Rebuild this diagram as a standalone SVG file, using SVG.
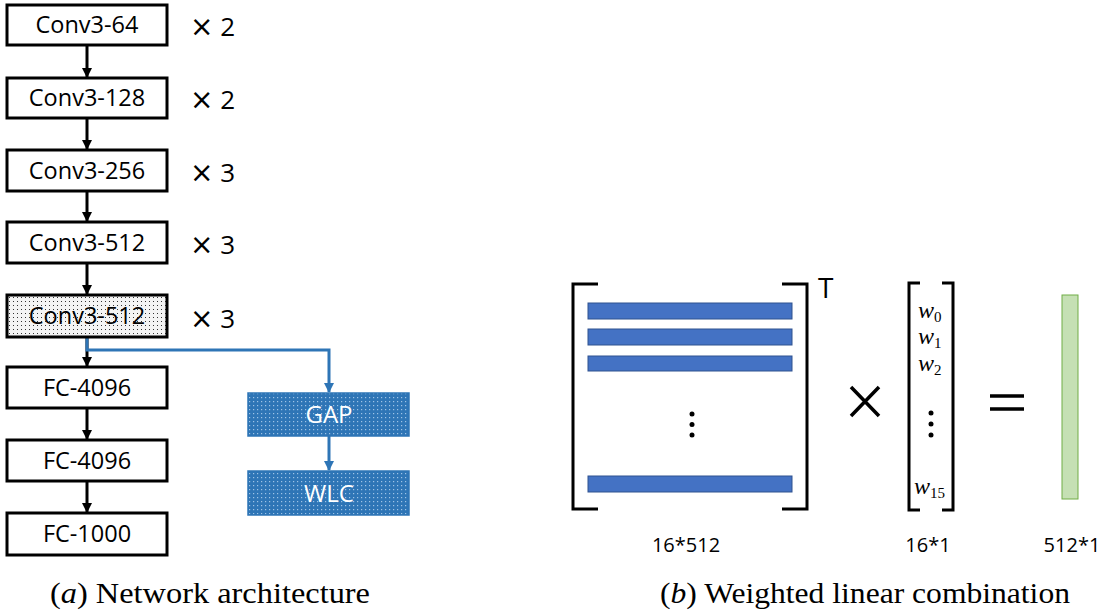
<svg xmlns="http://www.w3.org/2000/svg" width="1099" height="613" viewBox="0 0 1099 613">
<defs>
<pattern id="dotsK" width="4" height="4" patternUnits="userSpaceOnUse"><rect width="4" height="4" fill="#f4f4f4"/><rect x="1" y="1" width="1" height="1" fill="#333"/></pattern>
<pattern id="dotsB" width="4" height="4" patternUnits="userSpaceOnUse"><rect width="4" height="4" fill="#2E75B6"/><rect x="1" y="1" width="1.2" height="1.2" fill="#9ec3e6"/></pattern>
<marker id="ak" markerWidth="10" markerHeight="10" refX="9" refY="5" orient="auto" markerUnits="userSpaceOnUse"><path d="M0,0 L10,5 L0,10 z" fill="#000"/></marker>
<marker id="ab" markerWidth="10" markerHeight="10" refX="9" refY="5" orient="auto" markerUnits="userSpaceOnUse"><path d="M0,0 L10,5 L0,10 z" fill="#2E75B6"/></marker>
</defs>
<style>
.box{fill:#fff;stroke:#000;stroke-width:3}
.lbl{font-family:"Open Sans","Noto Sans",sans-serif;font-size:23.5px;fill:#000;text-anchor:middle}
.mul{font-family:"Open Sans","Noto Sans",sans-serif;font-size:26px;fill:#000}
.x{font-family:"DejaVu Sans",sans-serif;font-size:28px}
.bl{fill:url(#dotsB);stroke:#2E75B6;stroke-width:1.5}
.wl{font-family:"Open Sans","Noto Sans",sans-serif;font-size:24px;fill:#fff;text-anchor:middle}
.bar{fill:#4472C4;stroke:#2F528F;stroke-width:1}
.brk{fill:none;stroke:#000;stroke-width:3}
.w{font-family:"Liberation Serif",serif;font-style:italic;font-size:24px}
.sub{font-family:"Liberation Serif",serif;font-size:15px;font-style:normal}
.dim{font-family:"Open Sans","Noto Sans",sans-serif;font-size:20px;text-anchor:middle}
.cap{font-family:"Liberation Serif","DejaVu Serif",serif;font-size:29px}
</style>
<g id="connectors">
<g stroke="#000" stroke-width="3" marker-end="url(#ak)">
<line x1="87" y1="45" x2="87" y2="77"/>
<line x1="87" y1="117" x2="87" y2="149"/>
<line x1="87" y1="190" x2="87" y2="221"/>
<line x1="87" y1="262" x2="87" y2="294"/>
<line x1="87" y1="335" x2="87" y2="366"/>
<line x1="87" y1="408" x2="87" y2="439"/>
<line x1="87" y1="480" x2="87" y2="512"/>
</g>
<polyline points="87,337 87,350 329,350 329,392" fill="none" stroke="#2E75B6" stroke-width="3" marker-end="url(#ab)"/>
<line x1="329" y1="436" x2="329" y2="470" stroke="#2E75B6" stroke-width="3" marker-end="url(#ab)"/>
</g>
<g id="n1"><rect class="box" x="7" y="5" width="160" height="40"/><text class="lbl" x="87" y="33">Conv3-64</text><text class="mul" x="190" y="36"><tspan class="x">×</tspan> 2</text></g>
<g id="n2"><rect class="box" x="7" y="78" width="160" height="40"/><text class="lbl" x="87" y="106">Conv3-128</text><text class="mul" x="190" y="109"><tspan class="x">×</tspan> 2</text></g>
<g id="n3"><rect class="box" x="7" y="150" width="160" height="41"/><text class="lbl" x="87" y="179">Conv3-256</text><text class="mul" x="190" y="182"><tspan class="x">×</tspan> 3</text></g>
<g id="n4"><rect class="box" x="7" y="222" width="160" height="41"/><text class="lbl" x="87" y="251">Conv3-512</text><text class="mul" x="190" y="254"><tspan class="x">×</tspan> 3</text></g>
<g id="n5"><rect x="7" y="295" width="160" height="42" fill="url(#dotsK)" stroke="#000" stroke-width="3"/><text class="lbl" x="87" y="324">Conv3-512</text><text class="mul" x="190" y="328"><tspan class="x">×</tspan> 3</text></g>
<g id="n6"><rect class="box" x="7" y="367" width="160" height="41"/><text class="lbl" x="87" y="396">FC-4096</text></g>
<g id="n7"><rect class="box" x="7" y="440" width="160" height="41"/><text class="lbl" x="87" y="469">FC-4096</text></g>
<g id="n8"><rect class="box" x="7" y="513" width="160" height="42"/><text class="lbl" x="87" y="542">FC-1000</text></g>
<g id="gap"><rect class="bl" x="248" y="393" width="161" height="43"/><text class="wl" x="329" y="423">GAP</text></g>
<g id="wlc"><rect class="bl" x="248" y="471" width="161" height="44"/><text class="wl" x="329" y="502">WLC</text></g>
<g id="matrix">
<path class="brk" d="M598,284 H573 V509 H598"/>
<path class="brk" d="M782,284 H807 V509 H782"/>
<text x="818" y="298" font-family="Open Sans, Noto Sans, sans-serif" font-size="28">T</text>
<rect class="bar" x="588" y="303" width="204" height="16"/>
<rect class="bar" x="588" y="329" width="204" height="16"/>
<rect class="bar" x="588" y="356" width="204" height="15"/>
<rect class="bar" x="588" y="476" width="204" height="16"/>
<circle cx="692" cy="414" r="2.5"/><circle cx="692" cy="424.5" r="2.5"/><circle cx="692" cy="435" r="2.5"/>
<text class="dim" x="686" y="552">16*512</text>
</g>
<g id="times"><path d="M851,387 L879,416 M879,387 L851,416" stroke="#000" stroke-width="3.5"/></g>
<g id="vector">
<path class="brk" d="M920,283 H909 V510 H920"/>
<path class="brk" d="M942,283 H953 V510 H942"/>
<text class="w" x="918" y="318">w<tspan class="sub" dy="4">0</tspan></text>
<text class="w" x="918" y="344">w<tspan class="sub" dy="4">1</tspan></text>
<text class="w" x="918" y="371">w<tspan class="sub" dy="4">2</tspan></text>
<text class="w" x="914" y="494">w<tspan class="sub" dy="4">15</tspan></text>
<circle cx="931" cy="413" r="2.5"/><circle cx="931" cy="424" r="2.5"/><circle cx="931" cy="435" r="2.5"/>
<text class="dim" x="928" y="552">16*1</text>
</g>
<g id="equals"><path d="M990,396 H1024 M990,409 H1024" stroke="#000" stroke-width="3.5"/></g>
<g id="result">
<rect x="1062" y="295" width="16" height="204" fill="#C5E0B4" stroke="#70AD47" stroke-width="1"/>
<text class="dim" x="1072" y="552">512*1</text>
</g>
<g id="captions">
<text class="cap" x="50" y="603" textLength="320" lengthAdjust="spacingAndGlyphs">(<tspan font-style="italic">a</tspan>) Network architecture</text>
<text class="cap" x="660" y="603" textLength="410" lengthAdjust="spacingAndGlyphs">(<tspan font-style="italic">b</tspan>) Weighted linear combination</text>
</g>
</svg>
